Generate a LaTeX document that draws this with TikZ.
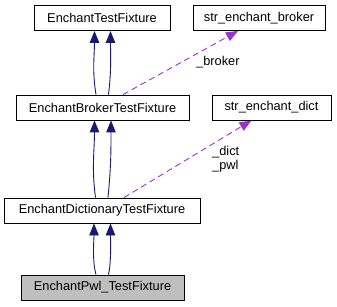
\documentclass[tikz,border=0pt]{standalone}
\usepackage{fontspec}
\setmainfont{Liberation Sans}
\usetikzlibrary{arrows.meta}
\definecolor{inh}{HTML}{191970}
\definecolor{use}{HTML}{9A32CD}
\tikzset{
  cls/.style={draw=black, line width=0.9pt, fill=white, minimum height=25pt,
    inner sep=0pt, font=\fontsize{12.8}{15}\selectfont},
  cur/.style={cls, fill=black!25},
  inhedge/.style={draw=inh, line width=0.9pt, -{Triangle[width=9.5pt,length=12pt]}},
  useedge/.style={draw=use, line width=0.9pt, dash pattern=on 6pt off 4pt,
    -{Triangle[width=9.5pt,length=12pt]}},
  lbl/.style={inner sep=0pt, anchor=west, font=\fontsize{12.8}{15}\selectfont}
}
\begin{document}
\begin{tikzpicture}[x=1pt,y=1pt]
\useasboundingbox (0,0) rectangle (337,-307);
% classes
\node[cls, minimum width=136pt] (etf) at (102,-18) {EnchantTestFixture};
\node[cls, minimum width=132pt] (seb) at (259,-18) {str\_enchant\_broker};
\node[cls, minimum width=173pt] (ebtf) at (102.5,-107.5) {EnchantBrokerTestFixture};
\node[cls, minimum width=119pt] (sed) at (271.5,-107.5) {str\_enchant\_dict};
\node[cls, minimum width=196pt] (edtf) at (102,-210.5) {EnchantDictionaryTestFixture};
\node[cur, minimum width=163pt] (pwl) at (102.5,-287.5) {EnchantPwl\_TestFixture};
% inheritance (two parallel edges each)
\draw[inhedge] ([xshift=-6.5pt]pwl.north) .. controls +(-4,14) and +(0,-16) .. ([xshift=-8pt]edtf.south);
\draw[inhedge] ([xshift=6pt]pwl.north) .. controls +(3,14) and +(0,-16) .. ([xshift=8.5pt]edtf.south);
\draw[inhedge] ([xshift=-6.5pt]edtf.north) .. controls +(-4,30) and +(0,-30) .. ([xshift=-8pt]ebtf.south);
\draw[inhedge] ([xshift=6pt]edtf.north) .. controls +(3,30) and +(0,-30) .. ([xshift=8.5pt]ebtf.south);
\draw[inhedge] ([xshift=-6.5pt]ebtf.north) .. controls +(-4,24) and +(0,-24) .. ([xshift=-7.5pt]etf.south);
\draw[inhedge] ([xshift=6pt]ebtf.north) .. controls +(3,24) and +(0,-24) .. ([xshift=8.5pt]etf.south);
% member usage
\draw[useedge] ([xshift=20.5pt]ebtf.north) -- ([xshift=-21pt]seb.south);
\draw[useedge] ([xshift=22pt]edtf.north) -- ([xshift=-20pt]sed.south);
\node[lbl] (lb) at (196,-62) {\_broker};
\node[lbl] (ld) at (212,-152) {\_dict};
\node[lbl] (lp) at (212,-166.5) {\_pwl};
\end{tikzpicture}
\end{document}
